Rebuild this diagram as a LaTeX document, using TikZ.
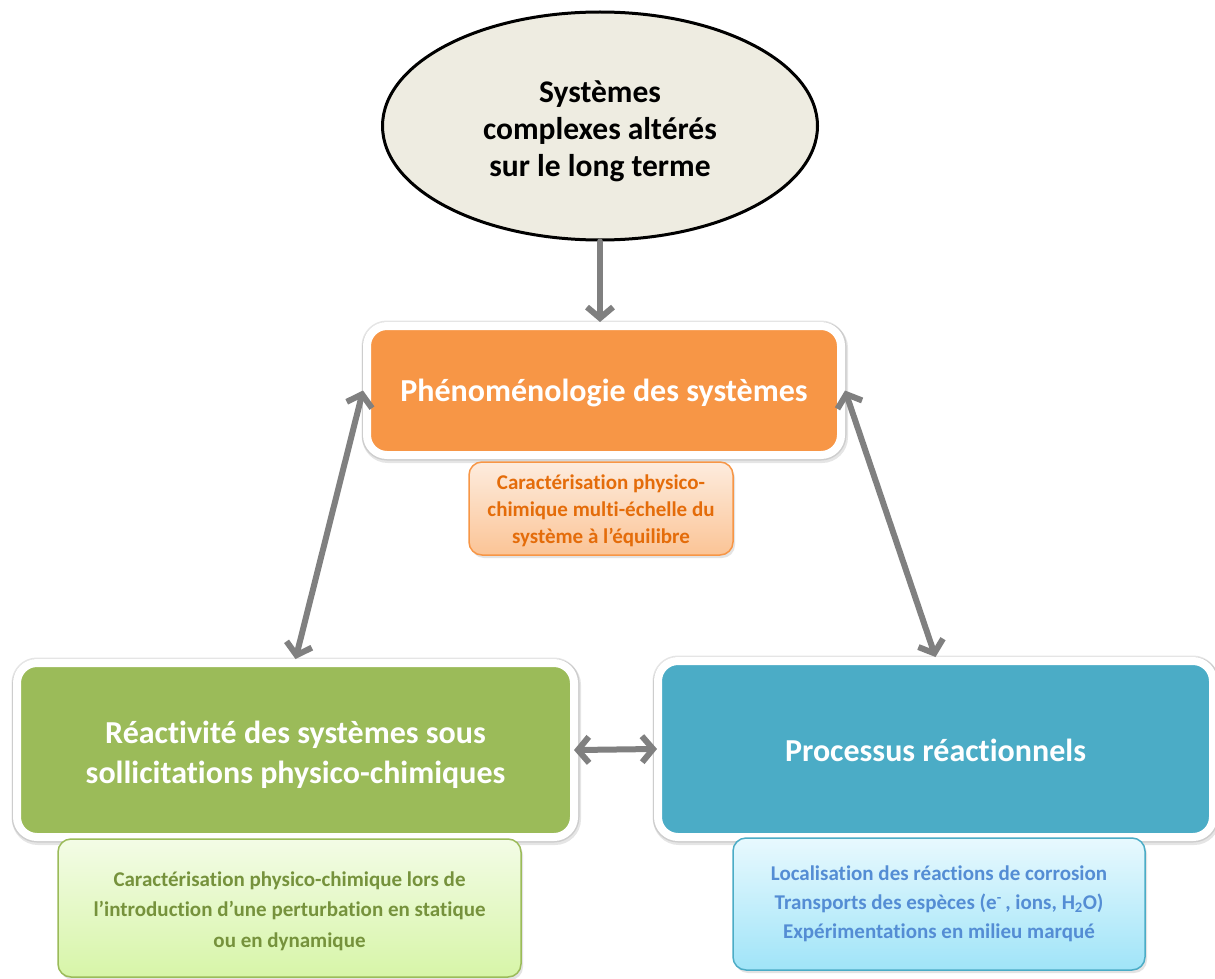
\documentclass[tikz,border=0pt]{standalone}
\usepackage{fontspec}
\setmainfont{Carlito}[Ligatures=NoCommon]
\usetikzlibrary{shapes.geometric,arrows.meta,shadows}
\definecolor{ellfill}{RGB}{238,236,225}
\definecolor{orfill}{RGB}{247,150,70}
\definecolor{ortext}{RGB}{228,108,10}
\definecolor{ortop}{RGB}{253,236,222}
\definecolor{orbot}{RGB}{251,196,150}
\definecolor{grfill}{RGB}{155,187,89}
\definecolor{grtext}{RGB}{118,146,60}
\definecolor{grtop}{RGB}{243,252,230}
\definecolor{grbot}{RGB}{215,245,168}
\definecolor{blfill}{RGB}{75,172,198}
\definecolor{bltext}{RGB}{84,141,212}
\definecolor{bltop}{RGB}{232,249,254}
\definecolor{blbot}{RGB}{160,228,248}
\definecolor{arrgray}{RGB}{128,128,128}
\begin{document}
\begin{tikzpicture}[x=1pt,y=-1pt,
  >={Straight Barb[length=11pt,width=26pt]},
  bigbox/.style={rectangle, rounded corners=20pt, draw=white, line width=8pt,
    text=white, align=center, inner sep=0pt,
    font=\fontsize{32}{40}\selectfont\bfseries,
    preaction={draw=black, draw opacity=0.10, line width=11pt},
    preaction={draw=black, draw opacity=0.10, line width=12pt,
      transform canvas={xshift=1pt, yshift=-2pt}}},
  smallbox/.style={rectangle, rounded corners=13pt, line width=1.5pt,
    align=center, inner sep=0pt,
    font=\fontsize{21}{29}\selectfont\bfseries,
    drop shadow={shadow xshift=2pt, shadow yshift=-3pt, opacity=0.22}},
  conn/.style={draw=arrgray, line width=6pt, line cap=round}
]
\useasboundingbox[fill=white] (0,0) rectangle (1215,979);

% top ellipse
\node[ellipse, draw=black, line width=3pt, fill=ellfill, minimum width=435pt,
      minimum height=228pt, inner sep=0pt, align=center,
      font=\fontsize{31.5}{37}\selectfont\bfseries] (ell) at (600,126)
  {\rule{0pt}{33pt}Systèmes\\complexes altérés\\sur le long terme};

% main boxes
\node[bigbox, fill=orfill, minimum width=474pt, minimum height=129pt] (or) at (604,390.5)
  {\rule{0pt}{27pt}Phénoménologie des systèmes};
\node[bigbox, fill=grfill, minimum width=557pt, minimum height=174pt] (gr) at (295.5,750)
  {\rule{0pt}{33pt}Réactivité des systèmes sous\\sollicitations physico-chimiques};
\node[bigbox, fill=blfill, minimum width=555pt, minimum height=176pt] (bl) at (935.5,749)
  {\rule{0pt}{26pt}Processus réactionnels};

% small boxes
\node[smallbox, draw=orfill, top color=ortop, bottom color=orbot, text=ortext,
      minimum width=264pt, minimum height=93pt,
      font=\fontsize{21}{27}\selectfont\bfseries] (ors) at (601,508.5)
  {\rule{0pt}{19pt}Caractérisation physico-\\chimique multi-échelle du\\système à l’équilibre};
\node[smallbox, draw=grfill, top color=grtop, bottom color=grbot, text=grtext,
      minimum width=463pt, minimum height=138pt,
      font=\fontsize{21}{30.5}\selectfont\bfseries] (grs) at (289.5,908)
  {\rule{0pt}{21pt}Caractérisation physico-chimique lors de\\l’introduction d’une perturbation en statique\\ou en dynamique};
\node[smallbox, draw=blfill, top color=bltop, bottom color=blbot, text=bltext,
      minimum width=412pt, minimum height=132pt] (bls) at (939,904)
  {Localisation des réactions de corrosion\\Transports des espèces (e\textsuperscript{-}\,, ions, H\textsubscript{2}O)\\Expérimentations en milieu marqué};

% connectors
\draw[conn, ->] (ell.south) -- (ell.south |- or.north);
\draw[conn, <->] (or.west) -- (gr.north);
\draw[conn, <->] (or.east) -- (bl.north);
\draw[conn, <->, shorten <=-4pt, shorten >=-3pt] (gr.east) -- (bl.west);
\end{tikzpicture}
\end{document}
